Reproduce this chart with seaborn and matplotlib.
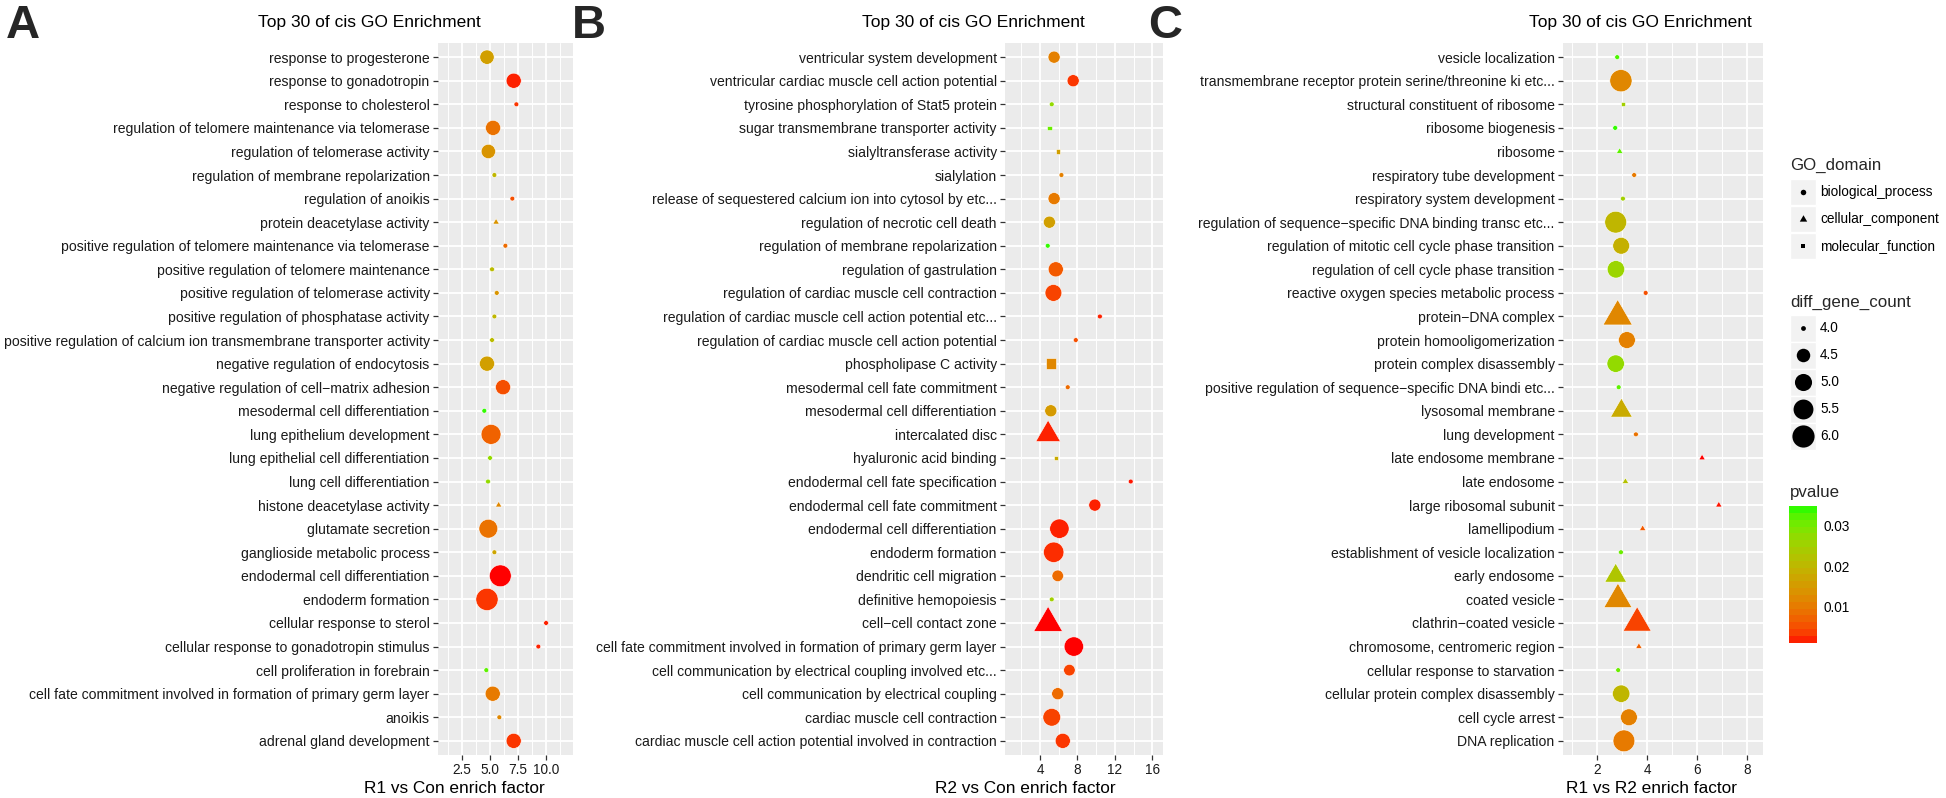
import numpy as np
import pandas as pd
import matplotlib
matplotlib.use("Agg")
import matplotlib.pyplot as plt
import seaborn as sns
from matplotlib.colors import ListedColormap, Normalize
from matplotlib.markers import MarkerStyle
from matplotlib.transforms import Affine2D
from matplotlib.ticker import MultipleLocator
from matplotlib.patches import Rectangle
from matplotlib.cm import ScalarMappable

# ---------------- data (top to bottom as shown) ----------------
a_terms = [
    "response to progesterone", "response to gonadotropin", "response to cholesterol",
    "regulation of telomere maintenance via telomerase", "regulation of telomerase activity",
    "regulation of membrane repolarization", "regulation of anoikis", "protein deacetylase activity",
    "positive regulation of telomere maintenance via telomerase",
    "positive regulation of telomere maintenance", "positive regulation of telomerase activity",
    "positive regulation of phosphatase activity",
    "positive regulation of calcium ion transmembrane transporter activity",
    "negative regulation of endocytosis", "negative regulation of cell\u2212matrix adhesion",
    "mesodermal cell differentiation", "lung epithelium development",
    "lung epithelial cell differentiation", "lung cell differentiation",
    "histone deacetylase activity", "glutamate secretion", "ganglioside metabolic process",
    "endodermal cell differentiation", "endoderm formation", "cellular response to sterol",
    "cellular response to gonadotropin stimulus", "cell proliferation in forebrain",
    "cell fate commitment involved in formation of primary germ layer", "anoikis",
    "adrenal gland development",
]
a_factor = [4.73, 7.11, 7.35, 5.27, 4.85, 5.39, 6.99, 5.54, 6.37, 5.18, 5.60, 5.39, 5.18, 4.73, 6.16,
            4.49, 5.09, 5.00, 4.82, 5.77, 4.85, 5.39, 5.92, 4.73, 10.0, 9.31, 4.67, 5.24, 5.83, 7.11]
a_pvalue = [0.016, 0.002, 0.003, 0.009, 0.014, 0.020, 0.005, 0.014, 0.008, 0.021, 0.014, 0.020, 0.021,
            0.016, 0.005, 0.034, 0.007, 0.027, 0.027, 0.012, 0.009, 0.017, 0.0012, 0.003, 0.002, 0.002,
            0.032, 0.010, 0.012, 0.003]
a_count = [4.6, 4.7, 4.0, 4.7, 4.6, 4.0, 4.0, 4.0, 4.0, 4.0, 4.0, 4.0, 4.0, 4.7, 4.7,
           4.0, 5.5, 4.0, 4.0, 4.0, 5.3, 4.0, 5.9, 6.0, 4.0, 4.0, 4.0, 4.7, 4.0, 4.7]
a_domain = ["BP", "BP", "BP", "BP", "BP", "BP", "BP", "CC", "BP", "BP", "BP", "BP", "BP", "BP", "BP",
            "BP", "BP", "BP", "BP", "CC", "BP", "BP", "BP", "BP", "BP", "BP", "BP", "BP", "BP", "BP"]

b_terms = [
    "ventricular system development", "ventricular cardiac muscle cell action potential",
    "tyrosine phosphorylation of Stat5 protein", "sugar transmembrane transporter activity",
    "sialyltransferase activity", "sialylation",
    "release of sequestered calcium ion into cytosol by etc...", "regulation of necrotic cell death",
    "regulation of membrane repolarization", "regulation of gastrulation",
    "regulation of cardiac muscle cell contraction",
    "regulation of cardiac muscle cell action potential etc...",
    "regulation of cardiac muscle cell action potential", "phospholipase C activity",
    "mesodermal cell fate commitment", "mesodermal cell differentiation", "intercalated disc",
    "hyaluronic acid binding", "endodermal cell fate specification",
    "endodermal cell fate commitment", "endodermal cell differentiation", "endoderm formation",
    "dendritic cell migration", "definitive hemopoiesis", "cell\u2212cell contact zone",
    "cell fate commitment involved in formation of primary germ layer",
    "cell communication by electrical coupling involved etc...",
    "cell communication by electrical coupling", "cardiac muscle cell contraction",
    "cardiac muscle cell action potential involved in contraction",
]
b_factor = [5.50, 7.54, 5.25, 5.00, 5.93, 6.29, 5.50, 5.00, 4.82, 5.68, 5.43, 10.4, 7.82, 5.18, 6.96,
            5.15, 4.86, 5.68, 13.7, 9.86, 6.07, 5.46, 5.89, 5.25, 4.86, 7.61, 7.14, 5.89, 5.25, 6.43]
b_pvalue = [0.011, 0.003, 0.027, 0.031, 0.016, 0.011, 0.010, 0.016, 0.034, 0.006, 0.004, 0.002, 0.005,
            0.012, 0.008, 0.015, 0.002, 0.018, 0.0015, 0.002, 0.002, 0.0025, 0.008, 0.025, 0.0012,
            0.0012, 0.004, 0.008, 0.004, 0.003]
b_count = [4.35, 4.35, 4.0, 4.0, 4.0, 4.0, 4.35, 4.35, 4.0, 4.7, 4.95, 4.0, 4.0, 4.35, 4.0,
           4.35, 5.2, 4.0, 4.0, 4.35, 5.4, 5.6, 4.3, 4.0, 5.8, 5.4, 4.3, 4.35, 5.1, 4.7]
b_domain = ["BP", "BP", "BP", "MF", "MF", "BP", "BP", "BP", "BP", "BP", "BP", "BP", "BP", "MF", "BP",
            "BP", "CC", "MF", "BP", "BP", "BP", "BP", "BP", "BP", "CC", "BP", "BP", "BP", "BP", "BP"]

c_terms = [
    "vesicle localization", "transmembrane receptor protein serine/threonine ki etc...",
    "structural constituent of ribosome", "ribosome biogenesis", "ribosome",
    "respiratory tube development", "respiratory system development",
    "regulation of sequence\u2212specific DNA binding transc etc...",
    "regulation of mitotic cell cycle phase transition", "regulation of cell cycle phase transition",
    "reactive oxygen species metabolic process", "protein\u2212DNA complex",
    "protein homooligomerization", "protein complex disassembly",
    "positive regulation of sequence\u2212specific DNA bindi etc...", "lysosomal membrane",
    "lung development", "late endosome membrane", "late endosome", "large ribosomal subunit",
    "lamellipodium", "establishment of vesicle localization", "early endosome", "coated vesicle",
    "clathrin\u2212coated vesicle", "chromosome, centromeric region", "cellular response to starvation",
    "cellular protein complex disassembly", "cell cycle arrest", "DNA replication",
]
c_factor = [2.80, 2.95, 3.04, 2.72, 2.90, 3.48, 3.03, 2.74, 2.96, 2.75, 3.94, 2.82, 3.19, 2.74, 2.86,
            2.97, 3.55, 6.20, 3.13, 6.87, 3.82, 2.95, 2.74, 2.83, 3.60, 3.67, 2.84, 2.96, 3.27, 3.07]
c_pvalue = [0.033, 0.012, 0.025, 0.034, 0.032, 0.010, 0.025, 0.020, 0.019, 0.026, 0.005, 0.012, 0.011,
            0.027, 0.032, 0.018, 0.009, 0.0012, 0.022, 0.0015, 0.006, 0.031, 0.023, 0.012, 0.004,
            0.007, 0.031, 0.020, 0.011, 0.010]
c_count = [4.0, 6.0, 4.0, 4.0, 4.0, 4.0, 4.0, 5.9, 4.95, 5.05, 4.0, 5.9, 4.95, 5.05, 4.0,
           4.85, 4.0, 4.0, 4.0, 4.0, 4.0, 4.0, 4.85, 5.7, 5.7, 4.0, 4.0, 5.05, 4.95, 5.9]
c_domain = ["BP", "BP", "MF", "BP", "CC", "BP", "BP", "BP", "BP", "BP", "BP", "CC", "BP", "BP", "BP",
            "CC", "BP", "CC", "CC", "CC", "CC", "BP", "CC", "CC", "CC", "CC", "BP", "BP", "BP", "BP"]

domain_names = {"BP": "biological_process", "CC": "cellular_component", "MF": "molecular_function"}
domain_order = ["biological_process", "cellular_component", "molecular_function"]
size_breaks = [4.0, 4.5, 5.0, 5.5, 6.0]
p_breaks = [0.01, 0.02, 0.03]
p_limits = (0.0011, 0.0349)

# ---------------- colour scale: red -> green interpolated in CIELAB ----------------
M = np.array([[0.4124564, 0.3575761, 0.1804375],
              [0.2126729, 0.7151522, 0.0721750],
              [0.0193339, 0.1191920, 0.9503041]])
WHITE = np.array([0.95047, 1.0, 1.08883])


def to_lab(rgb):
    rgb = np.asarray(rgb, float)
    lin = np.where(rgb <= 0.04045, rgb / 12.92, ((rgb + 0.055) / 1.055) ** 2.4)
    f = (M @ lin) / WHITE
    f = np.where(f > (6 / 29) ** 3, np.cbrt(f), f / (3 * (6 / 29) ** 2) + 4 / 29)
    return np.array([116 * f[1] - 16, 500 * (f[0] - f[1]), 200 * (f[1] - f[2])])


def from_lab(lab):
    fy = (lab[0] + 16) / 116
    f = np.array([fy + lab[1] / 500, fy, fy - lab[2] / 200])
    xyz = np.where(f > 6 / 29, f ** 3, 3 * (6 / 29) ** 2 * (f - 4 / 29)) * WHITE
    lin = np.clip(np.linalg.solve(M, xyz), 0, 1)
    return np.where(lin <= 0.0031308, 12.92 * lin, 1.055 * lin ** (1 / 2.4) - 0.055)


lo_lab, hi_lab = to_lab([1, 0, 0]), to_lab([0, 1, 0])
cmap = ListedColormap([np.clip(from_lab(lo_lab + t * (hi_lab - lo_lab)), 0, 1)
                       for t in np.linspace(0, 1, 256)])
pnorm = Normalize(*p_limits)

# ---------------- point sizes / shapes mimicking ggplot ----------------
PX = 0.72  # points per pixel at dpi 100


def diam(v):
    return 4.8 + 17.4 * np.sqrt(max(v - 4.0, 0) / 2.0)


def area(v):
    return (diam(v) * PX) ** 2


shapes = {
    "biological_process": MarkerStyle("o"),
    "cellular_component": MarkerStyle("^", transform=Affine2D().scale(1.347, 1.166).translate(0, 0.194)),
    "molecular_function": MarkerStyle("s", transform=Affine2D().scale(0.886)),
}

sns.set_theme(style="darkgrid", rc={
    "axes.facecolor": "#EBEBEB", "grid.color": "white", "axes.edgecolor": "none",
    "figure.facecolor": "white",
})
plt.rcParams["font.family"] = ["Liberation Sans", "DejaVu Sans"]

W, H = 1946, 798
fig = plt.figure(figsize=(W / 100, H / 100), dpi=100)


def rect(x0, y0, x1, y1):
    return [x0 / W, 1 - y1 / H, (x1 - x0) / W, (y1 - y0) / H]


panels = [
    ("A", a_terms, a_factor, a_pvalue, a_count, a_domain, (438, 573), (0.36, 12.4), 2.5, 1.25,
     "R1 vs Con enrich factor"),
    ("B", b_terms, b_factor, b_pvalue, b_count, b_domain, (1005, 1163), (0.25, 17.15), 4, 2,
     "R2 vs Con enrich factor"),
    ("C", c_terms, c_factor, c_pvalue, c_count, c_domain, (1563, 1763), (0.63, 8.64), 2, 1,
     "R1 vs R2 enrich factor"),
]
title_cx = [369, 973, 1640]
label_cx = [454, 1025, 1652]
letter_x = [6, 572, 1148]

for i, (tag, terms, fac, pv, cnt, dom, (x0, x1), xlim, maj, mnr, xlab) in enumerate(panels):
    ax = fig.add_axes(rect(x0, 43, x1, 755))
    df = pd.DataFrame({"term": terms, "factor": fac, "pvalue": pv, "count": cnt,
                       "GO_domain": [domain_names[d] for d in dom]})
    sns.scatterplot(data=df, x="factor", y="term", hue="pvalue", size="count", style="GO_domain",
                    palette=cmap, hue_norm=pnorm,
                    sizes={v: area(v) for v in df["count"].unique()},
                    markers=shapes, style_order=domain_order,
                    edgecolor="white", linewidth=0.4, legend=False, ax=ax, zorder=3)
    ax.set_ylim(len(terms) - 0.4, -0.6)
    ax.set_xlim(*xlim)
    ax.xaxis.set_major_locator(MultipleLocator(maj))
    ax.xaxis.set_minor_locator(MultipleLocator(mnr))
    ax.grid(which="major", color="white", linewidth=1.35)
    ax.grid(which="minor", axis="x", color="white", linewidth=0.7)
    ax.tick_params(axis="both", which="major", length=3.6, width=0.9, color="#333333",
                   labelsize=10.1, labelcolor="#1a1a1a", pad=2.4, bottom=True, left=True)
    ax.tick_params(axis="x", which="minor", length=0, bottom=False)
    ax.tick_params(axis="x", labelsize=9.8)
    ax.set_ylabel("")
    ax.set_xlabel(xlab, fontsize=12.4, color="black")
    ax.xaxis.set_label_coords((label_cx[i] - x0) / (x1 - x0), -0.036)
    for s in ax.spines.values():
        s.set_visible(False)
    fig.text(title_cx[i] / W, 1 - 22 / H, "Top 30 of cis GO Enrichment", ha="center", va="center",
             fontsize=12.5, color="black")
    fig.text(letter_x[i] / W, 1 - 4 / H, tag, ha="left", va="top", fontsize=34, fontweight="bold")

# ---------------- legends (ggplot style) ----------------
lax = fig.add_axes([0, 0, 1, 1], facecolor="none")
lax.set_xlim(0, W)
lax.set_ylim(H, 0)
lax.axis("off")
key_x0, key_w = 1790, 26
txt_kw = dict(fontsize=9.8, color="black", va="center", ha="left")

lax.text(key_x0, 165, "GO_domain", fontsize=12.2, va="center", ha="left")
for j, name in enumerate(domain_order):
    yc = 192 + j * 27
    lax.add_patch(Rectangle((key_x0, yc - 13), key_w, 26, facecolor="#F2F2F2", edgecolor="white"))
    lax.scatter([key_x0 + key_w / 2], [yc], s=(5.5 * PX) ** 2, c="black", marker=shapes[name],
                linewidths=0)
    lax.text(key_x0 + key_w + 4, yc, name, **txt_kw)

lax.text(key_x0, 302, "diff_gene_count", fontsize=12.2, va="center", ha="left")
for j, v in enumerate(size_breaks):
    yc = 328 + j * 27.1
    lax.add_patch(Rectangle((key_x0, yc - 13.5), key_w, 27, facecolor="#F2F2F2", edgecolor="white"))
    lax.scatter([key_x0 + key_w / 2], [yc], s=area(v), c="black", marker="o", linewidths=0)
    lax.text(key_x0 + key_w + 4, yc, f"{v:.1f}", **txt_kw)

lax.text(key_x0, 493, "pvalue", fontsize=12.2, va="center", ha="left")
cax = fig.add_axes(rect(1789.3, 506, 1816.7, 642.7))
cb = fig.colorbar(ScalarMappable(norm=pnorm, cmap=cmap), cax=cax,
                  boundaries=np.linspace(p_limits[0], p_limits[1], 21), ticks=p_breaks)
cb.outline.set_visible(False)
cb.ax.set_yticklabels([f"{b:.2f}" for b in p_breaks])
cax.tick_params(axis="y", direction="in", length=5, width=0.8, color="white", left=True, right=True,
                labelsize=9.8, labelcolor="black", pad=5)

fig.savefig("out.png", dpi=100)
